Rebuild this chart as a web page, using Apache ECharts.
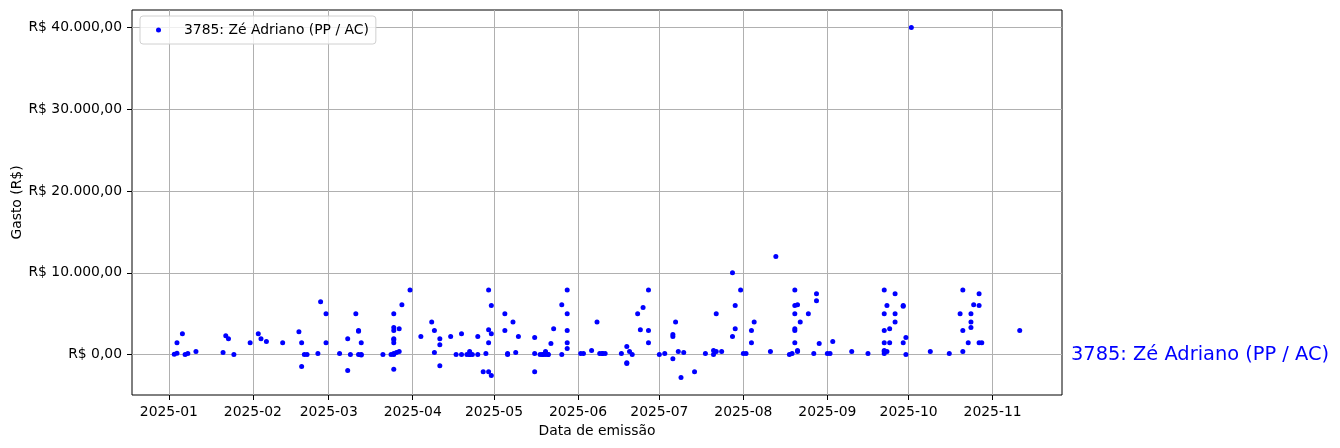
<!DOCTYPE html>
<html><head><meta charset="utf-8">
<script src="https://cdn.jsdelivr.net/npm/echarts@6/dist/echarts.min.js"></script>
<style>html,body{margin:0;padding:0;background:#fff}#c{width:1340px;height:448px}</style>
</head><body><div id="c"></div>
<script>
const seriesName = '3785: Zé Adriano (PP / AC)';
const xAxisTitle = 'Data de emissão';
const yAxisTitle = 'Gasto (R$)';
const xTickLabels = ['2025-01','2025-02','2025-03','2025-04','2025-05','2025-06','2025-07','2025-08','2025-09','2025-10','2025-11'];
const yTickValues = [0, 10000, 20000, 30000, 40000];

const dates = [
'2025-01-03','2025-01-04','2025-01-04','2025-01-06','2025-01-07','2025-01-08','2025-01-11','2025-01-21','2025-01-22','2025-01-23','2025-01-25','2025-01-31',
'2025-02-03','2025-02-04','2025-02-06','2025-02-12','2025-02-18','2025-02-19','2025-02-19','2025-02-20','2025-02-21','2025-02-25','2025-02-26','2025-02-28','2025-02-28',
'2025-03-05','2025-03-08','2025-03-08','2025-03-09','2025-03-11','2025-03-12','2025-03-12','2025-03-13','2025-03-12','2025-03-13','2025-03-13','2025-03-21','2025-03-24','2025-03-25','2025-03-25','2025-03-26','2025-03-27','2025-03-25','2025-03-25','2025-03-25','2025-03-25','2025-03-25','2025-03-25','2025-03-25','2025-03-27','2025-03-28','2025-03-31',
'2025-04-04','2025-04-08','2025-04-09','2025-04-09','2025-04-11','2025-04-11','2025-04-11','2025-04-15','2025-04-17','2025-04-19','2025-04-19','2025-04-21','2025-04-22','2025-04-22','2025-04-22','2025-04-23','2025-04-25','2025-04-25','2025-04-27','2025-04-28','2025-04-29','2025-04-29','2025-04-29','2025-04-29','2025-04-30','2025-04-30','2025-04-30',
'2025-05-05','2025-05-05','2025-05-06','2025-05-06','2025-05-08','2025-05-09','2025-05-10','2025-05-16','2025-05-16','2025-05-16','2025-05-18','2025-05-19','2025-05-19','2025-05-20','2025-05-20','2025-05-21','2025-05-21','2025-05-22','2025-05-23','2025-05-26','2025-05-26','2025-05-28','2025-05-28','2025-05-28','2025-05-28','2025-05-28',
'2025-06-02','2025-06-03','2025-06-06','2025-06-08','2025-06-09','2025-06-10','2025-06-10','2025-06-11','2025-06-17','2025-06-19','2025-06-19','2025-06-19','2025-06-20','2025-06-21','2025-06-23','2025-06-24','2025-06-25','2025-06-27','2025-06-27','2025-06-27',
'2025-07-01','2025-07-03','2025-07-06','2025-07-06','2025-07-06','2025-07-07','2025-07-08','2025-07-09','2025-07-10','2025-07-14','2025-07-18','2025-07-21','2025-07-21','2025-07-22','2025-07-22','2025-07-24','2025-07-28','2025-07-28','2025-07-29','2025-07-29','2025-07-31',
'2025-08-01','2025-08-02','2025-08-04','2025-08-04','2025-08-05','2025-08-11','2025-08-13','2025-08-18','2025-08-19','2025-08-20','2025-08-20','2025-08-20','2025-08-20','2025-08-20','2025-08-20','2025-08-21','2025-08-21','2025-08-21','2025-08-22','2025-08-25','2025-08-27','2025-08-28','2025-08-28','2025-08-29',
'2025-09-01','2025-09-02','2025-09-03','2025-09-10','2025-09-16','2025-09-22','2025-09-22','2025-09-22','2025-09-22','2025-09-22','2025-09-22','2025-09-22','2025-09-23','2025-09-23','2025-09-24','2025-09-24','2025-09-26','2025-09-26','2025-09-26','2025-09-29','2025-09-29','2025-09-29','2025-09-30','2025-09-30',
'2025-10-02','2025-10-09','2025-10-16','2025-10-20','2025-10-21','2025-10-21','2025-10-21','2025-10-23','2025-10-24','2025-10-24','2025-10-24','2025-10-25','2025-10-27','2025-10-27','2025-10-27','2025-10-28',
'2025-11-11'
];
const values = [
50,160,1450,2550,0,120,370,250,2300,1950,0,1450,
2550,1950,1600,1450,2800,1450,-1450,0,0,120,6450,5000,1450,
120,1950,-1950,0,5000,2950,2850,1450,0,0,-60,0,0,0,120,250,370,1950,1830,1450,-1800,5000,3300,2950,3150,6100,7900,
2200,4000,2950,250,1950,1200,-1350,2200,0,2550,0,0,0,370,0,0,0,2200,-2100,120,7900,3050,1450,-2100,6000,2550,-2550,
5000,2950,120,0,4000,250,2200,2100,-2100,120,0,0,0,370,0,0,0,1350,3150,0,6100,7900,5000,2950,1450,750,
120,120,500,4000,120,120,120,120,120,1000,-1000,-1100,370,0,5000,3050,5750,7900,2950,1450,
0,120,2450,2200,-500,4000,370,-2800,250,-2100,120,500,0,5000,370,370,10000,2200,3150,6000,7900,
120,120,1450,2950,4000,370,12000,0,120,7900,6000,5000,3150,2950,1450,6100,500,370,4000,5000,120,7450,6600,1350,
120,120,1600,370,120,7900,5000,2950,1450,500,370,120,6000,370,3150,1450,7450,5000,4000,6000,5900,1450,2100,0,
40000,370,120,5000,7900,2950,370,1450,5000,4000,3300,6100,7450,6000,1450,1450,
2950
];

function toTs(s) {
  const p = s.split('-').map(Number);
  return Date.UTC(p[0], p[1] - 1, p[2] || 1);
}
function brl(v) {
  const neg = v < 0; v = Math.abs(v);
  const parts = v.toFixed(2).split('.');
  const intPart = parts[0].replace(/\B(?=(\d{3})+(?!\d))/g, '.');
  return 'R$ ' + (neg ? '-' : '') + intPart + ',' + parts[1];
}

const points = dates.map((d, i) => [toTs(d), values[i]]);
const xs = points.map(p => p[0]), ys = points.map(p => p[1]);
const xMinD = Math.min(...xs), xMaxD = Math.max(...xs);
const yMinD = Math.min(...ys), yMaxD = Math.max(...ys);
const xPad = (xMaxD - xMinD) * 0.05, yPad = (yMaxD - yMinD) * 0.05;
const xTickValues = xTickLabels.map(toTs);
const xLabelMap = {};
xTickValues.forEach((t, i) => { xLabelMap[t] = xTickLabels[i]; });

const FONT = 'DejaVu Sans';
const chart = echarts.init(document.getElementById('c'), null, {renderer: 'canvas'});
const option = {
  animation: false,
  backgroundColor: '#fff',
  grid: {left: 132, right: 278, top: 10, bottom: 53, show: true, borderColor: '#000', borderWidth: 1, backgroundColor: '#fff', containLabel: false, outerBoundsMode: 'none'},
  legend: {
    left: 140, top: 16, orient: 'vertical',
    data: [{name: seriesName, icon: 'circle'}],
    itemWidth: 5, itemHeight: 5,
    padding: [6, 7, 6, 16],
    borderColor: '#d0d0d0', borderWidth: 1, borderRadius: 3,
    backgroundColor: 'rgba(255,255,255,0.8)',
    textStyle: {fontFamily: FONT, fontSize: 13.9, color: '#000', padding: [0, 0, 0, 18], lineHeight: 16}
  },
  xAxis: {
    type: 'value', min: xMinD - xPad, max: xMaxD + xPad,
    name: xAxisTitle, nameLocation: 'middle', nameGap: 29, nameMoveOverlap: false,
    nameTextStyle: {fontFamily: FONT, fontSize: 13.9, color: '#000'},
    axisLine: {show: false, onZero: false},
    axisTick: {show: true, inside: false, length: 5, lineStyle: {color: '#000', width: 1}, customValues: xTickValues},
    axisLabel: {customValues: xTickValues, margin: 10, fontFamily: FONT, fontSize: 13.9, color: '#000', formatter: v => xLabelMap[v] || ''},
    splitLine: {show: true, lineStyle: {color: '#b0b0b0', width: 1}}
  },
  yAxis: {
    type: 'value', min: yMinD - yPad, max: yMaxD + yPad,
    name: yAxisTitle, nameLocation: 'middle', nameGap: 108, nameRotate: 90, nameMoveOverlap: false,
    nameTextStyle: {fontFamily: FONT, fontSize: 13.9, color: '#000'},
    axisLine: {show: false, onZero: false},
    axisTick: {show: true, inside: false, length: 5, lineStyle: {color: '#000', width: 1}, customValues: yTickValues},
    axisLabel: {customValues: yTickValues, margin: 10, fontFamily: FONT, fontSize: 13.9, color: '#000', formatter: v => brl(v)},
    splitLine: {show: true, lineStyle: {color: '#b0b0b0', width: 1}}
  },
  series: [{
    name: seriesName, type: 'scatter', data: points,
    symbol: 'circle', symbolSize: 5,
    itemStyle: {color: '#0000ff', opacity: 1},
    emphasis: {disabled: true}
  }]
};
chart.setOption(option);
const yZero = chart.convertToPixel({yAxisIndex: 0}, 0);
chart.setOption({
  graphic: [{
    type: 'text', x: 1071, y: yZero,
    style: {text: seriesName, fill: '#0000ff', font: '19.4px "DejaVu Sans"', verticalAlign: 'middle', align: 'left'}
  }]
});
</script></body></html>
